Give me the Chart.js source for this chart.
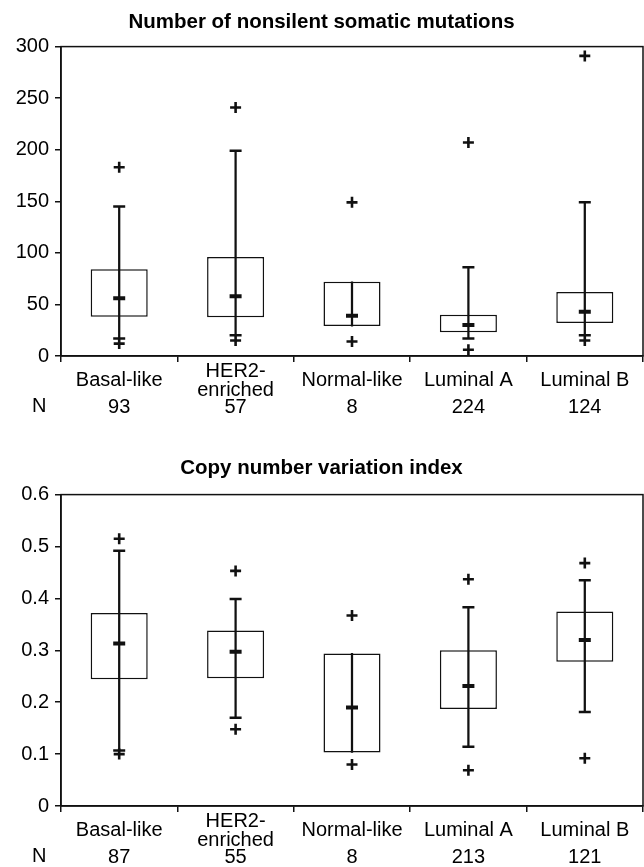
<!DOCTYPE html>
<html>
<head>
<meta charset="utf-8">
<script src="https://cdn.jsdelivr.net/npm/chart.js@4/dist/chart.umd.min.js"></script>
<style>
  body { margin: 0; background: #fff; width: 644px; height: 867px; position: relative; overflow: hidden; }
  .wrap { position: absolute; left: 0; width: 644px; }
  .nlabel { position: absolute; left: 32px; font: 20px "Liberation Sans", Arial, sans-serif; color: #000; line-height: 20px; }
</style>
</head>
<body>
<div class="wrap" style="top:0;height:448px"><canvas id="mutChart" width="644" height="448"></canvas></div>
<div class="wrap" style="top:448px;height:419px"><canvas id="cnvChart" width="644" height="419"></canvas></div>
<div class="nlabel" style="top:395px">N</div>
<div class="nlabel" style="top:845px">N</div>
<script>
// categories shared by both panels
const subtypes = ['Basal-like', ['HER2-', 'enriched'], 'Normal-like', 'Luminal A', 'Luminal B'];

// Number of nonsilent somatic mutations
const mutN = ['93', '57', '8', '224', '124'];
const mutQ1 = [38, 37.5, 29, 23, 32];
const mutQ3 = [84, 96, 72, 40, 62];
const mutMedian = [56, 58, 39, 30, 43];
const mutCapHigh = [145, 199, null, 86, 149];
const mutCapLow = [17, 20, null, 17, 20];
const mutOutHigh = [183, 241, 149, 207, 291];
const mutOutLow = [12, 15, 14, 6, 15];
const mutTicks = [0, 50, 100, 150, 200, 250, 300];

// Copy number variation index
const cnvN = ['87', '55', '8', '213', '121'];
const cnvQ1 = [0.244, 0.246, 0.103, 0.187, 0.278];
const cnvQ3 = [0.372, 0.338, 0.294, 0.300, 0.375];
const cnvMedian = [0.313, 0.297, 0.190, 0.231, 0.320];
const cnvCapHigh = [0.492, 0.399, null, 0.383, 0.435];
const cnvCapLow = [0.107, 0.170, null, 0.114, 0.181];
const cnvOutHigh = [0.515, 0.453, 0.367, 0.437, 0.468];
const cnvOutLow = [0.100, 0.148, 0.080, 0.069, 0.092];
const cnvTicks = [0, 0.1, 0.2, 0.3, 0.4, 0.5, 0.6];

const FONT = '"Liberation Sans", Arial, sans-serif';
const INK = '#111';

// draws the frame round the plot area
const frameBox = {
    id: 'frameBox',
    afterDatasetsDraw(chart) {
        const a = chart.chartArea;
        const ctx = chart.ctx;
        ctx.save();
        ctx.strokeStyle = INK;
        ctx.lineWidth = 1.5;
        ctx.strokeRect(a.left, a.top, a.right - a.left, a.bottom - a.top);
        ctx.restore();
    }
};

function markerSet(data, style, radius, width) {
    return {
        type: 'line',
        data: data,
        showLine: false,
        pointStyle: style,
        pointRadius: radius,
        pointHoverRadius: radius,
        pointBorderWidth: width,
        pointBorderColor: INK,
        pointBackgroundColor: INK,
        order: 1
    };
}

function noSidePadding(scale) {
    scale.paddingLeft = 0;
    scale.paddingRight = 0;
}

function makeBoxChart(canvasId, cfg) {
    const boxes = cfg.q1.map((v, i) => [v, cfg.q3[i]]);
    const whiskers = cfg.q1.map((v, i) => [
        cfg.capLow[i] != null ? cfg.capLow[i] : v,
        cfg.capHigh[i] != null ? cfg.capHigh[i] : cfg.q3[i]
    ]);

    return new Chart(document.getElementById(canvasId), {
        type: 'bar',
        data: {
            labels: subtypes,
            datasets: [
                {
                    data: boxes,
                    backgroundColor: '#fff',
                    borderColor: INK,
                    borderWidth: 1.5,
                    borderSkipped: false,
                    grouped: false,
                    barPercentage: 0.49,
                    categoryPercentage: 1,
                    order: 3
                },
                {
                    data: whiskers,
                    backgroundColor: INK,
                    borderWidth: 0,
                    grouped: false,
                    barThickness: 1.6,
                    order: 2
                },
                markerSet(cfg.capHigh, 'line', 6, 2.5),
                markerSet(cfg.capLow, 'line', 6, 2.5),
                markerSet(cfg.median, 'line', 6, 4),
                markerSet(cfg.outHigh, 'cross', 5.5, 2.6),
                markerSet(cfg.outLow, 'cross', 5.5, 2.6)
            ]
        },
        options: {
            responsive: false,
            animation: false,
            events: [],
            layout: { autoPadding: false, padding: { left: 0, right: 1, top: 0, bottom: 0 } },
            plugins: {
                legend: { display: false },
                tooltip: { enabled: false },
                title: {
                    display: true,
                    text: cfg.title,
                    color: '#000',
                    font: { family: FONT, size: 20.5, weight: 'bold', lineHeight: 1.2 },
                    padding: cfg.titlePadding
                }
            },
            scales: {
                x: {
                    type: 'category',
                    position: 'bottom',
                    weight: 0,
                    offset: true,
                    grid: { offset: true, drawOnChartArea: false, drawTicks: true, tickLength: 6, color: INK, lineWidth: 1.5 },
                    border: { display: true, color: INK, width: 1.5 },
                    ticks: {
                        color: '#000',
                        crossAlign: 'center',
                        padding: 9,
                        maxRotation: 0,
                        autoSkip: false,
                        font: { family: FONT, size: 20, lineHeight: 0.95 }
                    },
                    afterFit(scale) { scale.height = 46; noSidePadding(scale); }
                },
                xn: {
                    type: 'category',
                    position: 'bottom',
                    weight: 1,
                    offset: true,
                    labels: cfg.n,
                    grid: { display: false, drawTicks: false },
                    border: { display: false },
                    ticks: {
                        color: '#000',
                        mirror: true,
                        padding: -15,
                        maxRotation: 0,
                        autoSkip: false,
                        font: { family: FONT, size: 20, lineHeight: 1 }
                    },
                    afterFit(scale) { scale.height = cfg.nHeight; noSidePadding(scale); }
                },
                y: {
                    min: cfg.ticks[0],
                    max: cfg.ticks[cfg.ticks.length - 1],
                    afterBuildTicks(scale) { scale.ticks = cfg.ticks.map(v => ({ value: v })); },
                    grid: { drawOnChartArea: false, drawTicks: true, tickLength: 6, color: INK, lineWidth: 1.5 },
                    border: { display: true, color: INK, width: 1.5 },
                    ticks: {
                        color: '#000',
                        padding: 6,
                        font: { family: FONT, size: 20 },
                        callback: v => String(Number(v.toFixed(2)))
                    },
                    afterFit(scale) { scale.width = 61; }
                }
            }
        },
        plugins: [frameBox]
    });
}

makeBoxChart('mutChart', {
    title: 'Number of nonsilent somatic mutations',
    titlePadding: { top: 10, bottom: 12 },
    n: mutN, nHeight: 46, ticks: mutTicks,
    q1: mutQ1, q3: mutQ3, median: mutMedian,
    capHigh: mutCapHigh, capLow: mutCapLow,
    outHigh: mutOutHigh, outLow: mutOutLow
});

makeBoxChart('cnvChart', {
    title: 'Copy number variation index',
    titlePadding: { top: 8, bottom: 14 },
    n: cnvN, nHeight: 15, ticks: cnvTicks,
    q1: cnvQ1, q3: cnvQ3, median: cnvMedian,
    capHigh: cnvCapHigh, capLow: cnvCapLow,
    outHigh: cnvOutHigh, outLow: cnvOutLow
});
</script>
</body>
</html>
